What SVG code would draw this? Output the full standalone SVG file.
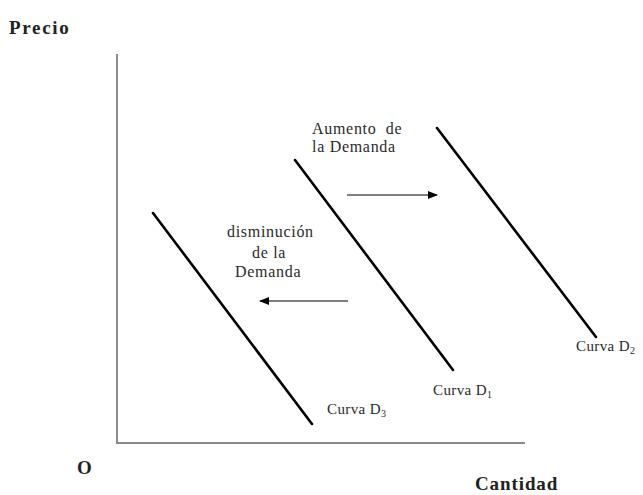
<svg xmlns="http://www.w3.org/2000/svg" width="643" height="495" viewBox="0 0 643 495">
<style>
.axis{stroke:#8a8a8a;stroke-width:2;fill:none}
.curve{stroke:#000;stroke-width:2.6;fill:none;stroke-linecap:round}
.arr{stroke:#000;stroke-width:1.2;fill:none}
.t{font-family:"Liberation Serif","Times New Roman",serif;font-size:16px;fill:#2a2a2a;letter-spacing:0.7px}
.c{font-family:"Liberation Serif","Times New Roman",serif;font-size:15px;fill:#2a2a2a;letter-spacing:0.4px}
.b{font-family:"Liberation Serif","Times New Roman",serif;font-size:19px;font-weight:bold;fill:#222}
</style>
<defs>
<marker id="ah" markerWidth="10" markerHeight="8" refX="9" refY="4" orient="auto" markerUnits="userSpaceOnUse">
<path d="M0,0 L10,4 L0,8 Z" fill="#000"/>
</marker>
</defs>
<rect width="643" height="495" fill="#fff"/>
<g id="axes">
<path class="axis" d="M117,54 V443 H525"/>
<text class="b" x="9" y="34" letter-spacing="1.7">Precio</text>
<text class="b" x="77" y="474">O</text>
<text class="b" x="475" y="490" letter-spacing="0.9">Cantidad</text>
</g>
<g id="curveD3">
<line class="curve" x1="153" y1="213" x2="312" y2="424"/>
<text class="c" x="327" y="414">Curva D<tspan font-size="10" dy="3">3</tspan></text>
</g>
<g id="curveD1">
<line class="curve" x1="295" y1="160" x2="453" y2="370"/>
<text class="c" x="433" y="395">Curva D<tspan font-size="10" dy="3">1</tspan></text>
</g>
<g id="curveD2">
<line class="curve" x1="437" y1="128" x2="596" y2="337"/>
<text class="c" x="576" y="351">Curva D<tspan font-size="10" dy="3">2</tspan></text>
</g>
<g id="aumento">
<text class="t" x="312" y="134" xml:space="preserve">Aumento  de</text>
<text class="t" x="312" y="152" letter-spacing="1">la Demanda</text>
</g>
<g id="disminucion">
<text class="t" x="227" y="237" letter-spacing="0.4">disminución</text>
<text class="t" x="252" y="258" letter-spacing="0">de la</text>
<text class="t" x="235" y="277" letter-spacing="0.8">Demanda</text>
</g>
<g id="connectors">
<line class="arr" x1="347" y1="195" x2="437" y2="195" marker-end="url(#ah)"/>
<line class="arr" x1="348" y1="301" x2="260" y2="301" marker-end="url(#ah)"/>
</g>
</svg>
